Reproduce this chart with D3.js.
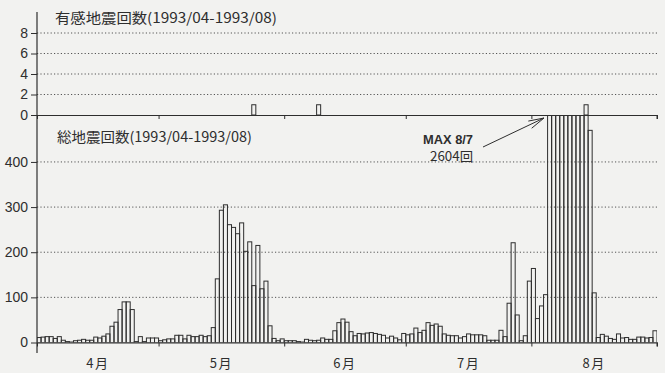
<!DOCTYPE html>
<html>
<head>
<meta charset="utf-8">
<script src="https://cdn.jsdelivr.net/npm/d3@7"></script>
<style>
  body { margin: 0; background: #f2f2f0; }
  svg { display: block; }
</style>
</head>
<body>
<div id="chart"></div>
<script>
// --------------------------------------
//  Data (daily counts, 1993/04/01 - 1993/08/31)
// --------------------------------------

const aprTotal = [11,12,13,13,9,13,5,2,1,4,5,7,5,5,12,10,14,19,36,45,73,90,90,73,2,13,2,10,10,10];
const mayTotal = [4,6,8,8,16,16,8,16,13,13,16,13,15,33,141,293,305,261,255,241,265,202,223,126,215,119,136,37,9,4,8];
const junTotal = [4,4,4,2,1,7,5,4,5,10,7,7,26,44,52,45,24,15,20,19,21,22,20,18,16,10,14,10,6,20];
const julTotal = [17,19,32,22,27,44,38,41,36,19,16,15,15,10,13,19,17,17,17,15,5,5,5,27,13,87,221,61,4,15,136];
const augTotal = [164,53,81,106,620,1200,2604,1850,1400,1100,950,800,700,600,470,110,11,18,14,9,7,19,10,11,7,7,12,12,10,11,26];

const feltDays = ["05/24", "06/09", "08/14"];
const feltCounts = [1, 1, 1];

const months = ["4月", "5月", "6月", "7月", "8月"];
const feltTicks = [0, 2, 4, 6, 8];
const totalTicks = [0, 100, 200, 300, 400];

const topTitle = "有感地震回数(1993/04-1993/08)";
const botTitle = "総地震回数(1993/04-1993/08)";

// --------------------------------------
//  Canvas
// --------------------------------------

const W = 665, H = 373;
const left = 37, right = 657;
const ink = "#2e2e2e";
const numFont = "'Liberation Sans', Arial, sans-serif";
const jpFont = "'Noto Sans CJK JP', sans-serif";

const svg = d3.select("#chart").append("svg")
  .attr("width", W)
  .attr("height", H);

svg.append("rect").attr("width", W).attr("height", H).attr("fill", "#f2f2f0");

const start = new Date(1993, 3, 1), end = new Date(1993, 8, 1);
const fmt = d3.timeFormat("%m/%d");
const days = d3.timeDay.range(start, end).map(fmt);
const totals = [].concat(aprTotal, mayTotal, junTotal, julTotal, augTotal);
const totalData = days.map((d, i) => ({ day: d, value: totals[i] }));
const feltData = feltDays.map((d, i) => ({ day: d, value: feltCounts[i] }));

// --------------------------------------
//  Scales
// --------------------------------------

const x = d3.scaleBand().domain(days).range([left, right]).padding(0);
const xt = d3.scaleTime().domain([start, end]).range([left, right]);
const yTop = d3.scaleLinear().domain([0, 10]).range([115, 12.5]);
const yBot = d3.scaleLinear().domain([0, 500]).range([342.5, 116.8]);

// --------------------------------------
//  Grid lines
// --------------------------------------

const grid = svg.append("g")
  .attr("stroke", "#555")
  .attr("stroke-width", 1)
  .attr("stroke-dasharray", "1.2,2.2");

grid.selectAll(".gt")
  .data(feltTicks.slice(1))
  .join("line")
  .attr("x1", left).attr("x2", right)
  .attr("y1", d => yTop(d)).attr("y2", d => yTop(d));

grid.selectAll(".gb")
  .data(totalTicks.slice(1))
  .join("line")
  .attr("x1", left).attr("x2", right)
  .attr("y1", d => yBot(d)).attr("y2", d => yBot(d));

// --------------------------------------
//  Bars
// --------------------------------------

svg.append("clipPath").attr("id", "clipBot")
  .append("rect")
  .attr("x", left).attr("y", 115)
  .attr("width", right - left).attr("height", yBot(0) - 115);

svg.append("g")
  .attr("clip-path", "url(#clipBot)")
  .selectAll("rect")
  .data(totalData)
  .join("rect")
  .attr("x", d => x(d.day))
  .attr("y", d => yBot(d.value))
  .attr("width", x.bandwidth())
  .attr("height", d => yBot(0) - yBot(d.value))
  .attr("fill", "none")
  .attr("stroke", ink)
  .attr("stroke-width", 1);

svg.append("g")
  .selectAll("rect")
  .data(feltData)
  .join("rect")
  .attr("x", d => x(d.day))
  .attr("y", d => yTop(d.value))
  .attr("width", x.bandwidth())
  .attr("height", d => yTop(0) - yTop(d.value))
  .attr("fill", "none")
  .attr("stroke", ink)
  .attr("stroke-width", 1);

// --------------------------------------
//  Axes
// --------------------------------------

function styleAxis(g) {
  g.select(".domain").remove();
  g.selectAll(".tick line").attr("stroke", ink);
  g.selectAll(".tick text")
    .attr("fill", ink)
    .attr("font-family", numFont)
    .attr("font-size", 14);
}

svg.append("g")
  .attr("transform", `translate(${left},0)`)
  .call(d3.axisLeft(yTop).tickValues(feltTicks).tickSize(6).tickPadding(3))
  .call(styleAxis);

svg.append("g")
  .attr("transform", `translate(${left},0)`)
  .call(d3.axisLeft(yBot).tickValues(totalTicks).tickSize(6).tickPadding(3))
  .call(styleAxis);

// month boundary ticks on both panels
const monthAxis = d3.axisBottom(xt)
  .ticks(d3.timeMonth.every(1))
  .tickFormat("")
  .tickSizeInner(4)
  .tickSizeOuter(0);

svg.append("g")
  .attr("transform", `translate(0,${yTop(0)})`)
  .call(monthAxis)
  .call(g => g.selectAll(".tick line").attr("stroke", ink))
  .call(g => g.select(".domain").attr("stroke", ink));

svg.append("g")
  .attr("transform", `translate(0,${yBot(0)})`)
  .call(monthAxis)
  .call(g => g.selectAll(".tick line").attr("stroke", ink))
  .call(g => g.select(".domain").attr("stroke", ink));

// right end ticks
[yTop(0), yBot(0)].forEach(y => {
  svg.append("line")
    .attr("x1", right).attr("x2", right)
    .attr("y1", y).attr("y2", y + 4)
    .attr("stroke", ink);
});

// vertical axis line
svg.append("line")
  .attr("x1", left).attr("x2", left)
  .attr("y1", 12).attr("y2", 353)
  .attr("stroke", ink)
  .attr("stroke-width", 1.2);

// month labels
const monthStarts = d3.timeMonth.range(start, end);
svg.append("g")
  .selectAll("text")
  .data(monthStarts)
  .join("text")
  .attr("x", (d, i) => (xt(d) + xt(d3.timeMonth.offset(d, 1))) / 2)
  .attr("y", 368)
  .attr("text-anchor", "middle")
  .attr("font-family", jpFont)
  .attr("font-size", 13)
  .attr("letter-spacing", 1.5)
  .attr("fill", ink)
  .text((d, i) => months[i]);

// --------------------------------------
//  Titles and annotation
// --------------------------------------

svg.append("text")
  .attr("x", 55).attr("y", 23)
  .attr("font-family", jpFont)
  .attr("font-size", 14)
  .attr("fill", ink)
  .attr("textLength", 222)
  .attr("lengthAdjust", "spacingAndGlyphs")
  .text(topTitle);

svg.append("text")
  .attr("x", 57).attr("y", 142)
  .attr("font-family", jpFont)
  .attr("font-size", 14)
  .attr("fill", ink)
  .attr("textLength", 195)
  .attr("lengthAdjust", "spacingAndGlyphs")
  .text(botTitle);

svg.append("text")
  .attr("x", 423).attr("y", 144)
  .attr("font-family", numFont)
  .attr("font-weight", "bold")
  .attr("font-size", 13)
  .attr("fill", ink)
  .attr("textLength", 50)
  .attr("lengthAdjust", "spacingAndGlyphs")
  .text("MAX 8/7");

svg.append("text")
  .attr("x", 430).attr("y", 161)
  .attr("font-family", jpFont)
  .attr("font-size", 13)
  .attr("fill", ink)
  .attr("textLength", 43)
  .attr("lengthAdjust", "spacingAndGlyphs")
  .text("2604回");

// arrow to the clipped maximum
const a0 = [483, 147], a1 = [544, 118];
const ang = Math.atan2(a1[1] - a0[1], a1[0] - a0[0]);
const head = 16, spread = 0.25;
svg.append("path")
  .attr("d",
    `M${a0[0]},${a0[1]}L${a1[0]},${a1[1]}` +
    `M${a1[0] - head * Math.cos(ang - spread)},${a1[1] - head * Math.sin(ang - spread)}L${a1[0]},${a1[1]}` +
    `L${a1[0] - head * Math.cos(ang + spread)},${a1[1] - head * Math.sin(ang + spread)}`)
  .attr("fill", "none")
  .attr("stroke", ink)
  .attr("stroke-width", 1);
</script>
</body>
</html>
